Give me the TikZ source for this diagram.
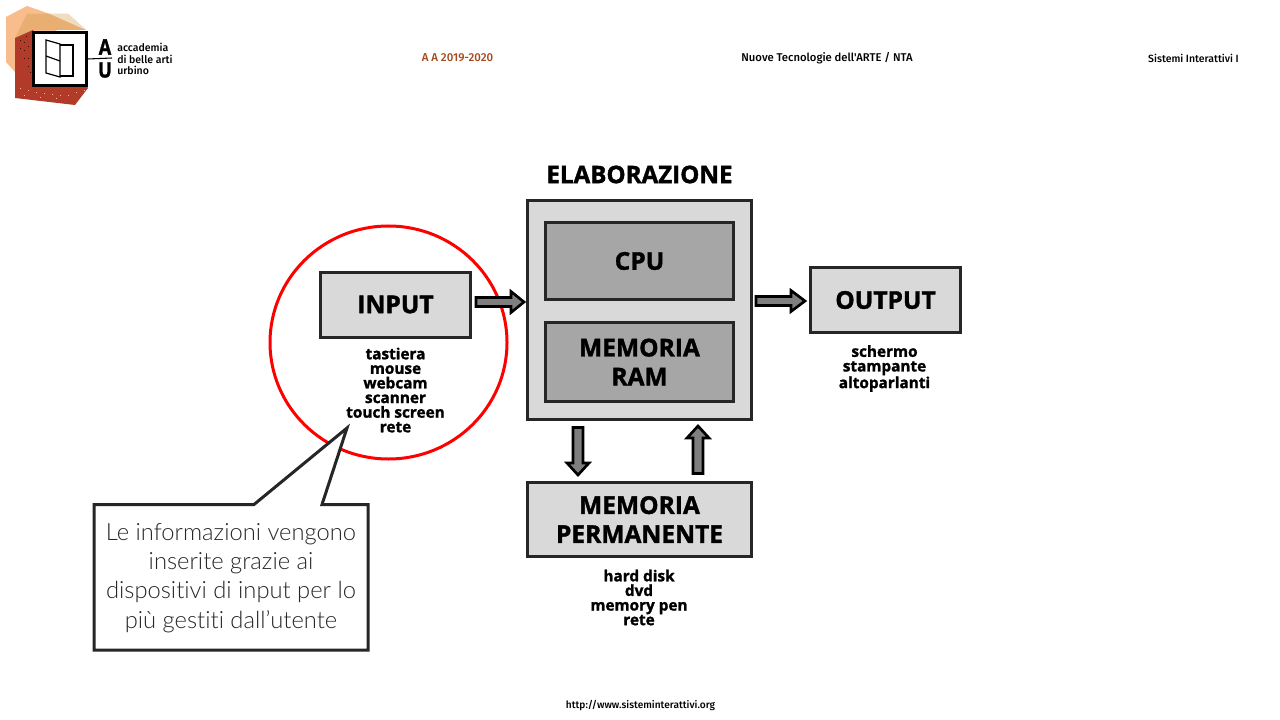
\documentclass[tikz,border=0pt]{standalone}
\usetikzlibrary{shapes.geometric}
\usepackage{fontspec}
\setmainfont{Open Sans}
\newfontfamily\blackfam[BoldFeatures={FakeBold=1.4}]{Open Sans}
\newcommand{\blackf}{\blackfam\bfseries}
\newfontfamily\lightf[Ligatures=CommonOff]{Lato Light}
\newfontfamily\headf[Ligatures=CommonOff]{Fira Sans Medium}
\definecolor{boxgray}{HTML}{D9D9D9}
\definecolor{darkgray}{HTML}{A6A6A6}
\definecolor{edge}{HTML}{262626}
\definecolor{arrowgray}{HTML}{7F7F7F}
\definecolor{peach}{HTML}{F9BC8C}
\definecolor{tan}{HTML}{E8AE72}
\definecolor{pale}{HTML}{F0DCC0}
\definecolor{brick}{HTML}{B23A28}
\definecolor{yeartext}{HTML}{A5491F}
\tikzset{
  lightbox/.style={draw=edge,line width=2.25pt,fill=boxgray,align=center,inner sep=0pt,font=\blackf\fontsize{18.4}{21.7}\selectfont,text=black},
  darkbox/.style={lightbox,fill=darkgray},
  listtext/.style={align=center,inner sep=0pt,font=\blackf\fontsize{11.5}{10.95}\selectfont,text=black},
  headtext/.style={inner sep=0pt,font=\headf\fontsize{8}{9}\selectfont,text=black},
  bigarrow/.style={draw=black,line width=2pt,fill=arrowgray,miter limit=10},
}
\begin{document}
\begin{tikzpicture}[x=0.75pt,y=-0.75pt]
\useasboundingbox (0,0) rectangle (1280,720);
\fill[white] (0,0) rectangle (1280,720);
% logo
\fill[peach] (6,17) -- (27,6) -- (50,14) -- (60,40) -- (15,40) -- (15,72) -- (6,62) -- cycle;
\fill[tan] (27,14) -- (68,14) -- (86,30) -- (33,30) -- (15,38) -- cycle;
\fill[pale] (50,14) -- (68,14) -- (86,30) -- cycle;
\fill[brick] (15,38) -- (33,30) -- (88,88) -- (75,105) -- (15,98) -- cycle;
\foreach \dx/\dy in {20/88,28/90,36/92,44/93,52/94,60/95,68/95,76/92,84/90,24/95,40/97,56/98}
  \fill[peach] (\dx,\dy) rectangle +(1.2,1.2);
\foreach \dx/\dy in {20/40,24/42,20/48,24/50,28/46,28/58,24/58,28/66,30/72,26/36}
  \fill[black!70!brick] (\dx,\dy) rectangle +(1.2,1.2);
\node[draw=black,line width=1.6pt,fill=white,minimum width=53*0.75pt,minimum height=53*0.75pt,inner sep=0pt] (logobox) at (60,59) {};
\draw[black,line width=0.9pt] (46,40) -- (60,44) -- (60,77) -- (46,73) -- cycle;
\draw[black,line width=0.9pt] (46,56) -- (60,61);
\draw[black,line width=0.9pt] (60,45) -- (73,45) -- (73,76) -- (60,76);
\draw[black,line width=0.8pt] (logobox.east) -- (112,58);
\node[inner sep=0pt,xscale=0.85,font=\blackf\fontsize{16}{16}\selectfont] (logoA) at (105,47) {A};
\node[inner sep=0pt,xscale=0.85,font=\blackf\fontsize{16}{16}\selectfont] (logoU) at (105,70) {U};
\node[inner sep=0pt,align=left,anchor=west,font=\headf\fontsize{7.9}{8.6}\selectfont] (logotext) at (117,59) {accademia\\di belle arti\\urbino};
% header
\node[headtext,text=yeartext,font=\headf\fontsize{8.6}{9}\selectfont] (year) at (457.5,58) {A A 2019-2020};
\node[headtext,font=\headf\fontsize{8.45}{9}\selectfont] (course) at (827,58) {Nuove Tecnologie dell'ARTE / NTA};
\node[headtext,font=\headf\fontsize{7.85}{9}\selectfont] (subject) at (1193.5,58) {Sistemi Interattivi I};
\node[headtext,font=\headf\fontsize{7.6}{9}\selectfont] (url) at (640.5,705) {http://www.sisteminterattivi.org};
% circle
\node[draw=red,line width=2.25pt,ellipse,minimum width=237*0.75pt,minimum height=233*0.75pt,inner sep=0pt] (ring) at (388.5,342.5) {};
% main
\node[inner sep=0pt,font=\blackf\fontsize{18.1}{20}\selectfont] (elabtitle) at (639.5,174.5) {ELABORAZIONE};
\node[lightbox,minimum width=224*0.75pt,minimum height=219*0.75pt] (elab) at (639.5,310) {};
\node[darkbox,minimum width=188*0.75pt,minimum height=77*0.75pt] (cpu) at (639.5,261) {CPU};
\node[darkbox,minimum width=188*0.75pt,minimum height=79*0.75pt] (ram) at (639.5,362) {MEMORIA\\RAM};
\node[lightbox,minimum width=150*0.75pt,minimum height=65*0.75pt] (input) at (395.5,304.5) {INPUT};
\node[lightbox,minimum width=150*0.75pt,minimum height=65*0.75pt] (output) at (885.5,300) {OUTPUT};
\node[lightbox,minimum width=224*0.75pt,minimum height=74*0.75pt] (perm) at (639.5,519.5) {MEMORIA\\PERMANENTE};
% lists
\node[listtext] (inlist) at (395.5,390) {tastiera\\mouse\\webcam\\scanner\\touch screen\\rete};
\node[listtext] (outlist) at (884.5,368.5) {schermo\\stampante\\altoparlanti};
\node[listtext] (permlist) at (639,597.5) {hard disk\\dvd\\memory pen\\rete};
% block arrows
\draw[bigarrow] (476,297.5) -- (511,297.5) -- (511,291.5) -- (524,302) -- (511,312.5) -- (511,306.5) -- (476,306.5) -- cycle;
\draw[bigarrow] (756,296.5) -- (791,296.5) -- (791,290.5) -- (805,301) -- (791,311.5) -- (791,305.5) -- (756,305.5) -- cycle;
\draw[bigarrow] (573,427.5) -- (583,427.5) -- (583,463) -- (589,463) -- (578,475) -- (567,463) -- (573,463) -- cycle;
\draw[bigarrow] (693,473.5) -- (703,473.5) -- (703,438) -- (709,438) -- (698,426) -- (687,438) -- (693,438) -- cycle;
% callout
\draw[draw=edge,line width=2.25pt,fill=white,line join=miter] (94,504.5) -- (254,504.5) -- (347,428) -- (322,504.5) -- (368,504.5) -- (368,650) -- (94,650) -- cycle;
\node[inner sep=0pt,align=center,font=\lightf\fontsize{17.8}{21.9}\selectfont,text=black!85] (calltext) at (231,578) {Le informazioni vengono\\inserite grazie ai\\dispositivi di input per lo\\più gestiti dall’utente};
\end{tikzpicture}
\end{document}
